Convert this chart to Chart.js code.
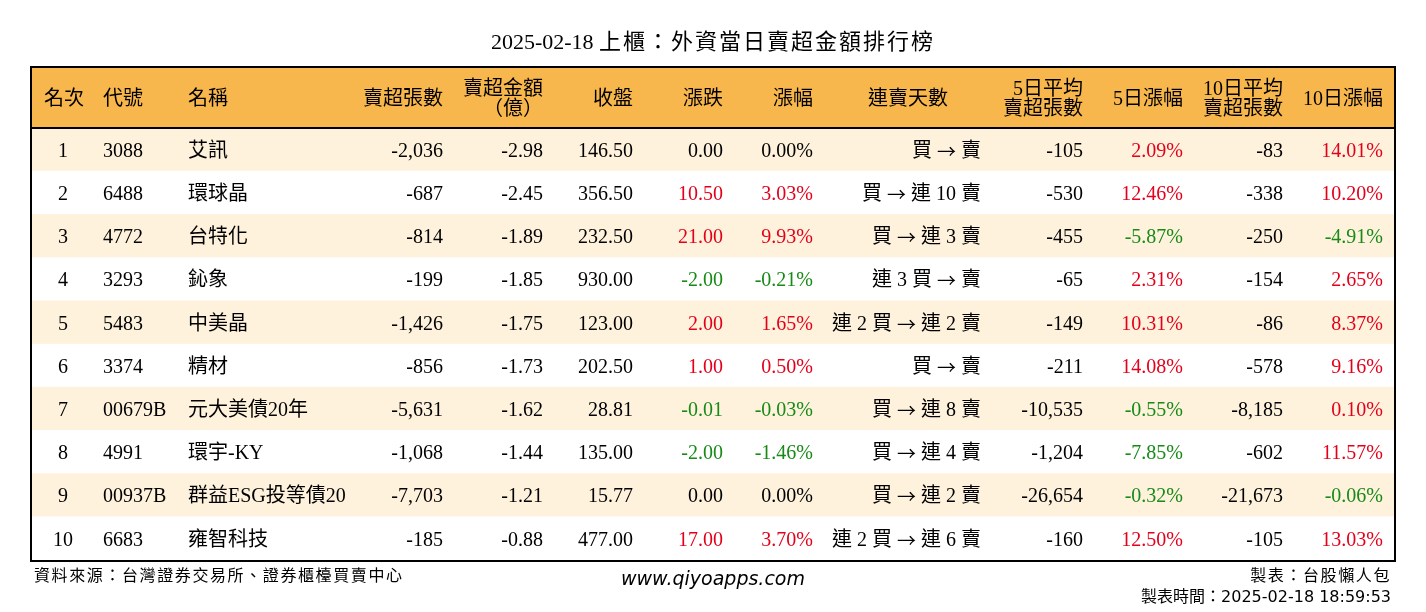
<!DOCTYPE html>
<html>
<head>
<meta charset="utf-8">
<script src="https://cdn.jsdelivr.net/npm/chart.js@4"></script>
<style>
  html, body { margin: 0; padding: 0; background: #fff; }
  canvas { display: block; }
</style>
</head>
<body>
<canvas id="tbl" width="1426" height="612"></canvas>
<script>
// 上櫃 外資賣超金額排行 — table drawn on a Chart.js canvas (row bands = floating bars, text via plugin)
const titleDate = "2025-02-18";
const titleText = "上櫃：外資當日賣超金額排行榜";
const ranks = [1, 2, 3, 4, 5, 6, 7, 8, 9, 10];
const codes = ["3088", "6488", "4772", "3293", "5483", "3374", "00679B", "4991", "00937B", "6683"];
const names = ["艾訊", "環球晶", "台特化", "鈊象", "中美晶", "精材", "元大美債20年", "環宇-KY", "群益ESG投等債20", "雍智科技"];
const sellVol = [-2036, -687, -814, -199, -1426, -856, -5631, -1068, -7703, -185];
const sellAmt = [-2.98, -2.45, -1.89, -1.85, -1.75, -1.73, -1.62, -1.44, -1.21, -0.88];
const closes = [146.50, 356.50, 232.50, 930.00, 123.00, 202.50, 28.81, 135.00, 15.77, 477.00];
const change = [0.00, 10.50, 21.00, -2.00, 2.00, 1.00, -0.01, -2.00, 0.00, 17.00];
const changePct = [0.00, 3.03, 9.93, -0.21, 1.65, 0.50, -0.03, -1.46, 0.00, 3.70];
const streak = ["買 → 賣", "買 → 連 10 賣", "買 → 連 3 賣", "連 3 買 → 賣", "連 2 買 → 連 2 賣",
  "買 → 賣", "買 → 連 8 賣", "買 → 連 4 賣", "買 → 連 2 賣", "連 2 買 → 連 6 賣"];
const avg5 = [-105, -530, -455, -65, -149, -211, -10535, -1204, -26654, -160];
const pct5 = [2.09, 12.46, -5.87, 2.31, 10.31, 14.08, -0.55, -7.85, -0.32, 12.50];
const avg10 = [-83, -338, -250, -154, -86, -578, -8185, -602, -21673, -105];
const pct10 = [14.01, 10.20, -4.91, 2.65, 8.37, 9.16, 0.10, 11.57, -0.06, 13.03];
const headers = [["名次"], ["代號"], ["名稱"], ["賣超張數"], ["賣超金額", "（億）"], ["收盤"], ["漲跌"], ["漲幅"],
  ["連賣天數"], ["5日平均", "賣超張數"], ["5日漲幅"], ["10日平均", "賣超張數"], ["10日漲幅"]];
const footSource = "資料來源：台灣證券交易所、證券櫃檯買賣中心";
const footSite = "www.qiyoapps.com";
const footMaker = "製表：台股懶人包";
const footTime = "製表時間：2025-02-18 18:59:53";

// layout (page px; x scale is mapped 1:1 onto the table width)
const T = { left: 31, right: 1395, top: 67, head: 128, bottom: 560 };
const ORANGE = "#f8b74c", CREAM = "#fef2dd", RED = "#e3001b", GREEN = "#178a17";
const FONT = '20px "Liberation Serif", "Noto Sans CJK TC", serif';
const ARROW_FONT = '19px "Noto Sans CJK TC", sans-serif';
const cols = [
  { x: 63, align: "center", hx: 64, ha: "center" },
  { x: 103, align: "left", hx: 103, ha: "left" },
  { x: 188, align: "left", hx: 188, ha: "left" },
  { x: 443, align: "right", hx: 443, ha: "right" },
  { x: 543, align: "right", hx: 543, ha: "right" },
  { x: 633, align: "right", hx: 633, ha: "right" },
  { x: 723, align: "right", hx: 723, ha: "right" },
  { x: 813, align: "right", hx: 813, ha: "right" },
  { x: 981, align: "right", hx: 908, ha: "center" },
  { x: 1083, align: "right", hx: 1083, ha: "right" },
  { x: 1183, align: "right", hx: 1183, ha: "right" },
  { x: 1283, align: "right", hx: 1283, ha: "right" },
  { x: 1383, align: "right", hx: 1383, ha: "right" },
];

const int = (n) => n.toLocaleString("en-US");
const dec = (n) => n.toFixed(2);
const pct = (n) => n.toFixed(2) + "%";
const sign = (n) => (n > 0 ? RED : n < 0 ? GREEN : "#000");

function cells(i) {
  return [
    [String(ranks[i]), "#000"], [codes[i], "#000"], [names[i], "#000"],
    [int(sellVol[i]), "#000"], [dec(sellAmt[i]), "#000"], [dec(closes[i]), "#000"],
    [dec(change[i]), sign(change[i])], [pct(changePct[i]), sign(changePct[i])],
    [streak[i], "#000"], [int(avg5[i]), "#000"], [pct(pct5[i]), sign(pct5[i])],
    [int(avg10[i]), "#000"], [pct(pct10[i]), sign(pct10[i])],
  ];
}

// right-aligned text whose "→" is drawn with the wider CJK arrow
function drawStreak(ctx, txt, xr, yy) {
  const parts = txt.split("→");
  const segs = [];
  parts.forEach((p, k) => {
    segs.push([p, FONT]);
    if (k < parts.length - 1) segs.push(["→", ARROW_FONT]);
  });
  let w = 0;
  segs.forEach(([s, f]) => { ctx.font = f; w += ctx.measureText(s).width; });
  let cx = xr - w;
  ctx.textAlign = "left";
  segs.forEach(([s, f]) => { ctx.font = f; ctx.fillText(s, cx, yy); cx += ctx.measureText(s).width; });
  ctx.font = FONT;
}

const tablePlugin = {
  id: "tablePlugin",
  beforeDatasetsDraw(chart) {
    const { ctx, scales: { x } } = chart;
    ctx.save();
    ctx.fillStyle = ORANGE;
    ctx.fillRect(x.getPixelForValue(T.left), T.top, x.getPixelForValue(T.right) - x.getPixelForValue(T.left), T.head - T.top);
    ctx.restore();
  },
  afterDatasetsDraw(chart) {
    const { ctx, scales: { x, y } } = chart;
    const L = x.getPixelForValue(T.left), R = x.getPixelForValue(T.right);
    ctx.save();
    ctx.textBaseline = "middle";
    ctx.fillStyle = "#000";
    // title: date without spacing, CJK part slightly spaced
    ctx.font = '22px "Liberation Serif", "Noto Sans CJK TC", serif';
    const dW = ctx.measureText(titleDate + " ").width;
    ctx.letterSpacing = "2px";
    const tW = ctx.measureText(titleText).width;
    const tx = (L + R) / 2 - (dW + tW) / 2;
    ctx.textAlign = "left";
    ctx.fillText(titleText, tx + dW, 43);
    ctx.letterSpacing = "0px";
    ctx.fillText(titleDate, tx, 43);
    // header
    ctx.font = FONT;
    const hMid = (T.top + T.head) / 2 + 2;
    headers.forEach((lines, c) => {
      ctx.textAlign = cols[c].ha;
      const hx = x.getPixelForValue(cols[c].hx);
      if (lines.length === 1) ctx.fillText(lines[0], hx, hMid);
      else { ctx.fillText(lines[0], hx, hMid - 10); ctx.fillText(lines[1], hx, hMid + 10); }
    });
    // body
    ranks.forEach((r, i) => {
      const yy = y.getPixelForValue(i) + 2;
      cells(i).forEach(([txt, col], c) => {
        ctx.fillStyle = col;
        if (c === 8) { drawStreak(ctx, txt, x.getPixelForValue(cols[c].x), yy); return; }
        ctx.textAlign = cols[c].align;
        ctx.fillText(txt, x.getPixelForValue(cols[c].x), yy);
      });
    });
    // borders
    ctx.strokeStyle = "#000";
    ctx.lineWidth = 2;
    ctx.strokeRect(L, T.top, R - L, T.bottom + 1 - T.top);
    ctx.beginPath(); ctx.moveTo(L, T.head); ctx.lineTo(R, T.head); ctx.stroke();
    // footer
    ctx.fillStyle = "#000";
    ctx.font = '16px "DejaVu Sans", "Noto Sans CJK TC", sans-serif';
    ctx.textAlign = "left";
    ctx.letterSpacing = "1.6px";
    ctx.fillText(footSource, L + 3, 577);
    ctx.textAlign = "right";
    ctx.fillText(footMaker, R - 4, 577);
    ctx.letterSpacing = "0px";
    ctx.fillText(footTime, R - 4, 598);
    ctx.font = 'italic 19px "DejaVu Sans", sans-serif';
    ctx.textAlign = "center";
    ctx.fillText(footSite, 713, 580);
    ctx.restore();
  },
};

new Chart(document.getElementById("tbl"), {
  type: "bar",
  data: {
    labels: ranks.map(String),
    datasets: [{
      data: ranks.map(() => [T.left, T.right]),
      backgroundColor: ranks.map((r, i) => (i % 2 === 0 ? CREAM : "#ffffff")),
      borderWidth: 0, barPercentage: 1, categoryPercentage: 1,
    }],
  },
  options: {
    indexAxis: "y", responsive: false, animation: false, events: [],
    layout: { padding: { left: T.left, right: 1426 - T.right, top: T.head, bottom: 612 - T.bottom } },
    scales: {
      x: { type: "linear", min: T.left, max: T.right, display: false },
      y: { display: false, offset: true },
    },
    plugins: { legend: { display: false }, tooltip: { enabled: false } },
  },
  plugins: [tablePlugin],
});
</script>
</body>
</html>
